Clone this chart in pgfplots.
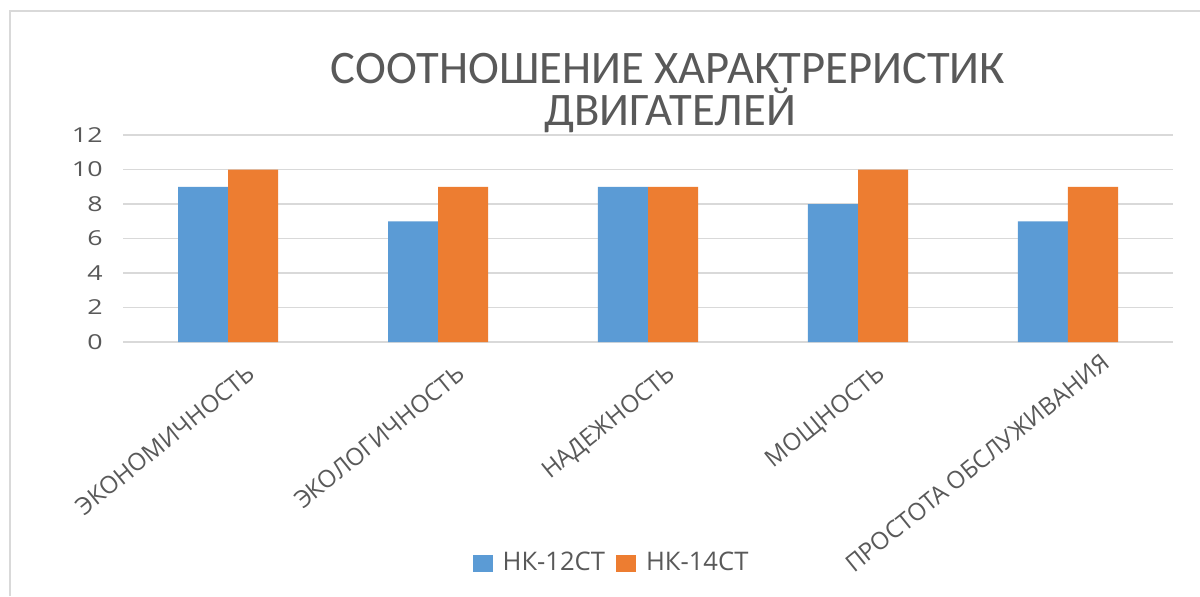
\documentclass[border=0pt]{standalone}
\usepackage{pgfplots}
\pgfplotsset{compat=1.18}
\usepackage{fontspec}
\setmainfont{Open Sans}
\newfontfamily\titlefont{Carlito}
\definecolor{cblue}{HTML}{5B9BD5}
\definecolor{corange}{HTML}{ED7D31}
\definecolor{cgrid}{HTML}{D9D9D9}
\definecolor{ctext}{HTML}{595959}
\begin{document}
\begin{tikzpicture}
\useasboundingbox (0,0) rectangle (600pt,-298pt);
\fill[white] (0,0) rectangle (600pt,-298pt);
\draw[cgrid, line width=1pt] (5pt,-298pt) -- (5pt,-5.5pt) -- (600pt,-5.5pt);
\node[font=\titlefont\fontsize{23.3}{28}\selectfont, text=ctext, anchor=base, inner sep=0pt] at (334pt,-41.5pt) {СООТНОШЕНИЕ ХАРАКТРЕРИСТИК};
\node[font=\titlefont\fontsize{23.3}{28}\selectfont, text=ctext, anchor=base, inner sep=0pt] at (335pt,-62.5pt) {ДВИГАТЕЛЕЙ};
\begin{axis}[
  at={(61.5pt,-171pt)}, anchor=south west,
  scale only axis, width=525pt, height=103.5pt,
  ybar=0pt, bar width=25pt,
  xmin=-0.5, xmax=4.5, ymin=0, ymax=12,
  ytick={0,2,4,6,8,10,12},
  yticklabel={\scalebox{1.3}[1]{\pgfmathprintnumber{\tick}}},
  xtick={0,1,2,3},
  xticklabels={ЭКОНОМИЧНОСТЬ,ЭКОЛОГИЧНОСТЬ,НАДЕЖНОСТЬ,МОЩНОСТЬ},
  extra x ticks={4},
  extra x tick labels={ПРОСТОТА ОБСЛУЖИВАНИЯ},
  extra x tick style={xticklabel style={xshift=9pt}},
  axis line style={draw=none}, major tick length=0pt,
  ymajorgrids, grid style={cgrid, line width=0.75pt},
  tick label style={text=ctext},
  /pgf/number format/assume math mode=true,
  yticklabel style={font=\fontsize{10.3}{12}\selectfont, inner sep=0pt, xshift=-10pt},
  xticklabel style={font=\fontsize{12}{14}\selectfont, xshift=9pt, yshift=-10.5pt, rotate=39, anchor=north east, inner sep=0pt},
  legend style={at={(0.4662,-1.0676)}, anchor=center, draw=none, fill=none,
    font=\fontsize{12.8}{14}\selectfont, text=ctext, legend columns=2,
    /tikz/every odd column/.append style={column sep=3pt},
    /tikz/every even column/.append style={column sep=3.5pt}},
  legend image code/.code={\fill[#1] (0pt,-4.25pt) rectangle (10pt,4.25pt);},
  legend cell align=left,
]
\addplot[fill=cblue, draw=none] coordinates {(0,9) (1,7) (2,9) (3,8) (4,7)};
\addplot[fill=corange, draw=none] coordinates {(0,10) (1,9) (2,9) (3,10) (4,9)};
\legend{НК-12СТ, НК-14СТ}
\end{axis}
\end{tikzpicture}
\end{document}
